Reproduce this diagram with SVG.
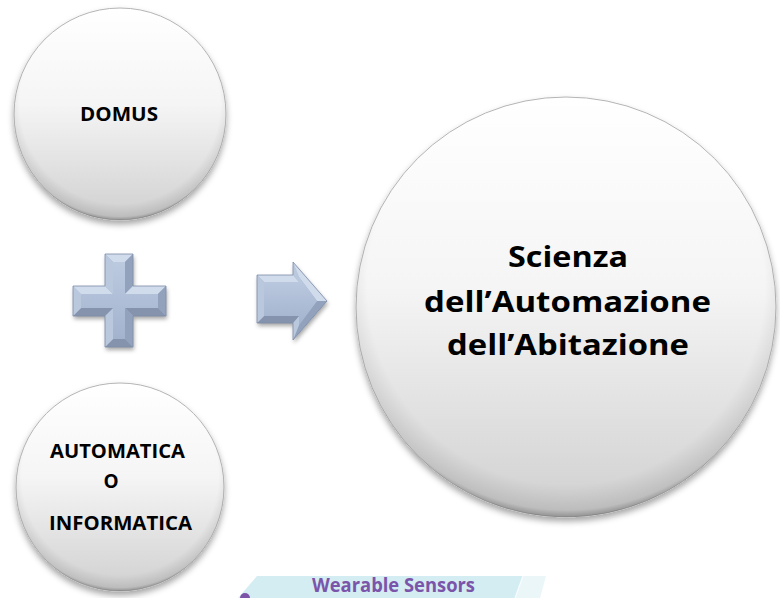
<svg xmlns="http://www.w3.org/2000/svg" width="780" height="598" viewBox="0 0 780 598">
  <defs>
    <linearGradient id="ballFill" x1="0" y1="0" x2="0" y2="1">
      <stop offset="0" stop-color="#ffffff"/>
      <stop offset="0.45" stop-color="#f5f5f5"/>
      <stop offset="1" stop-color="#d0d0d0"/>
    </linearGradient>
    <radialGradient id="rim" cx="0.5" cy="0.45" r="0.55">
      <stop offset="0.86" stop-color="#000000" stop-opacity="0"/>
      <stop offset="0.97" stop-color="#000000" stop-opacity="0.10"/>
      <stop offset="1" stop-color="#000000" stop-opacity="0.30"/>
    </radialGradient>
    <linearGradient id="faceFill" x1="0" y1="0" x2="0" y2="1">
      <stop offset="0" stop-color="#bccae0"/>
      <stop offset="1" stop-color="#a3b3ce"/>
    </linearGradient>
    <filter id="shadow" x="-20%" y="-20%" width="140%" height="150%">
      <feDropShadow dx="0" dy="4" stdDeviation="3" flood-color="#000000" flood-opacity="0.35"/>
    </filter>
    <filter id="shadowSm" x="-20%" y="-20%" width="140%" height="150%">
      <feDropShadow dx="1" dy="3" stdDeviation="2" flood-color="#000000" flood-opacity="0.35"/>
    </filter>
  </defs>
  <style>
    .ball { fill: url(#ballFill); stroke: #b4b4b4; stroke-width: 1; }
    .rimShade { fill: url(#rim); }
    .lbl { font-family: "Open Sans", "Liberation Sans", sans-serif; font-weight: 700; fill: #000000; text-anchor: middle; }
    .small { font-size: 19px; }
    .big { font-size: 29px; }
    .fTop { fill: #d0dbeb; }
    .fLeft { fill: #bac8de; }
    .fRight { fill: #92a2bd; }
    .fBot { fill: #8593ad; }
    .fFace { fill: url(#faceFill); }
    .edge { fill: none; stroke: #7f8ea8; stroke-width: 0.8; }
  </style>

  <rect x="0" y="0" width="780" height="598" fill="#ffffff"/>

  <!-- partial graphic at bottom -->
  <g id="wearable-sensors">
    <polygon points="257,576 523,576 515,598 238,598" fill="#d4edf2"/>
    <polygon points="523,576 546,576 540,598 515,598" fill="#eaf6f8"/>
    <line x1="523" y1="576" x2="515" y2="598" stroke="#f8fcfd" stroke-width="1.2"/>
    <text x="393.5" y="592" font-family="Open Sans, Liberation Sans, sans-serif" font-weight="700" font-size="19" fill="#7b55a9" text-anchor="middle" textLength="163" lengthAdjust="spacingAndGlyphs">Wearable Sensors</text>
    <circle cx="245" cy="598" r="5" fill="#7d55a8"/>
  </g>

  <g id="domus">
    <circle class="ball" cx="120" cy="114" r="106" filter="url(#shadow)"/>
    <circle class="rimShade" cx="120" cy="114" r="106"/>
    <text class="lbl small" x="119" y="121" textLength="78" lengthAdjust="spacingAndGlyphs">DOMUS</text>
  </g>

  <g id="automatica-informatica">
    <circle class="ball" cx="120" cy="487" r="104" filter="url(#shadow)"/>
    <circle class="rimShade" cx="120" cy="487" r="104"/>
    <text class="lbl small" x="117.5" y="458" textLength="135" lengthAdjust="spacingAndGlyphs">AUTOMATICA</text>
    <text class="lbl small" x="111" y="488">O</text>
    <text class="lbl small" x="120.5" y="530" textLength="143" lengthAdjust="spacingAndGlyphs">INFORMATICA</text>
  </g>

  <g id="scienza">
    <circle class="ball" cx="566" cy="307" r="210" filter="url(#shadow)"/>
    <circle class="rimShade" cx="566" cy="307" r="210"/>
    <text class="lbl big" x="568" y="267" textLength="120" lengthAdjust="spacingAndGlyphs">Scienza</text>
    <text class="lbl big" x="567.5" y="312" textLength="287" lengthAdjust="spacingAndGlyphs">dell’Automazione</text>
    <text class="lbl big" x="568" y="355" textLength="242" lengthAdjust="spacingAndGlyphs">dell’Abitazione</text>
  </g>

  <g id="plus">
    <polygon points="105,254 133,254 133,286 166,286 166,316 133,316 133,347 105,347 105,316 73,316 73,286 105,286" fill="#a3b3ce" filter="url(#shadowSm)"/>
    <polygon class="fTop" points="105,254 133,254 125,262 113,262"/>
    <polygon class="fRight" points="133,254 133,286 125,294 125,262"/>
    <polygon class="fTop" points="133,286 166,286 158,294 125,294"/>
    <polygon class="fRight" points="166,286 166,316 158,308 158,294"/>
    <polygon class="fBot" points="166,316 133,316 125,308 158,308"/>
    <polygon class="fRight" points="133,316 133,347 125,339 125,308"/>
    <polygon class="fBot" points="133,347 105,347 113,339 125,339"/>
    <polygon class="fLeft" points="105,347 105,316 113,308 113,339"/>
    <polygon class="fBot" points="105,316 73,316 81,308 113,308"/>
    <polygon class="fLeft" points="73,316 73,286 81,294 81,308"/>
    <polygon class="fTop" points="73,286 105,286 113,294 81,294"/>
    <polygon class="fLeft" points="105,286 105,254 113,262 113,294"/>
    <polygon class="fFace" points="113,262 125,262 125,294 158,294 158,308 125,308 125,339 113,339 113,308 81,308 81,294 113,294"/>
    <polygon class="edge" points="105,254 133,254 133,286 166,286 166,316 133,316 133,347 105,347 105,316 73,316 73,286 105,286"/>
  </g>

  <g id="connectors">
    <g id="arrow">
      <polygon points="257,275 293,275 293,262 327,301 293,340 293,323 257,323" fill="#a3b3ce" filter="url(#shadowSm)"/>
      <polygon class="fTop" points="257,275 293,275 299,282 264,282"/>
      <polygon class="fLeft" points="293,275 293,262 299,277 299,282"/>
      <polygon class="fTop" points="293,262 327,301 317,301 299,277"/>
      <polygon class="fRight" points="327,301 293,340 299,325 317,301"/>
      <polygon class="fLeft" points="293,340 293,323 299,316 299,325"/>
      <polygon class="fBot" points="293,323 257,323 264,316 299,316"/>
      <polygon class="fLeft" points="257,323 257,275 264,282 264,316"/>
      <polygon class="fFace" points="264,282 299,282 299,277 317,301 299,325 299,316 264,316"/>
      <polygon class="edge" points="257,275 293,275 293,262 327,301 293,340 293,323 257,323"/>
    </g>
  </g>
</svg>
